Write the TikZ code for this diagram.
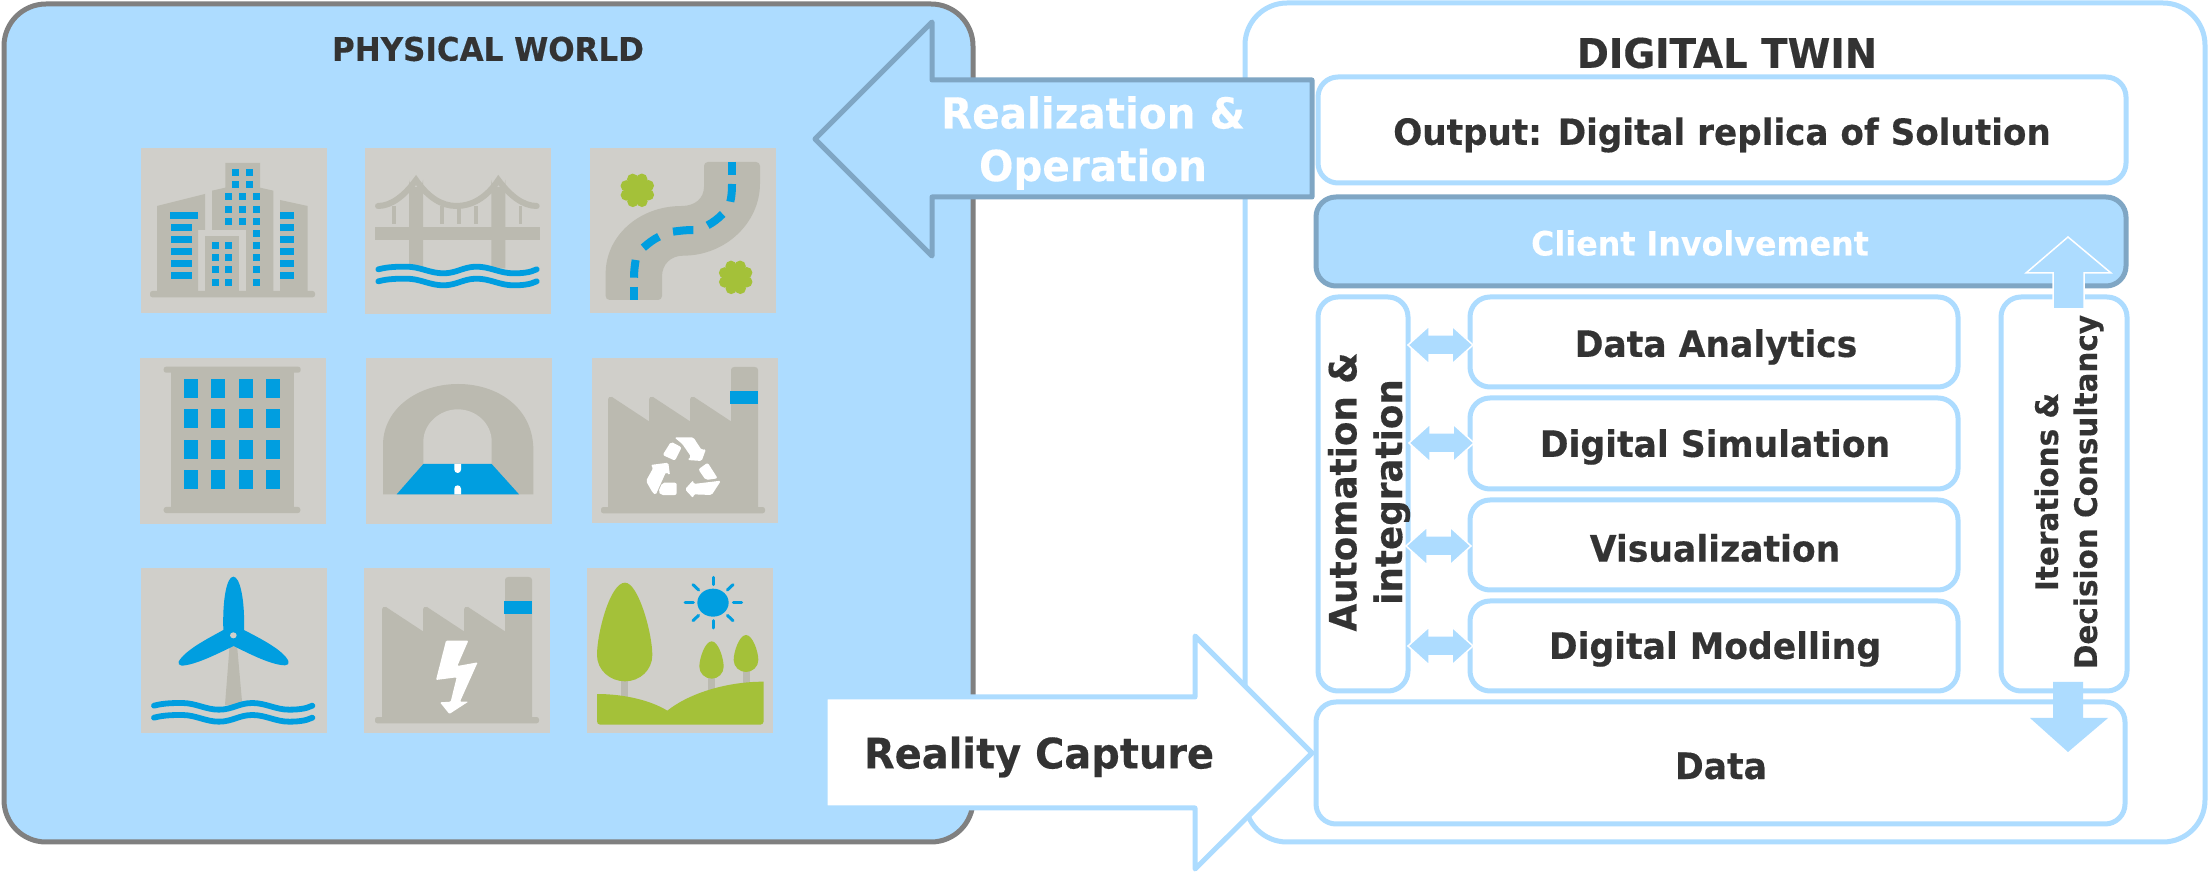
\documentclass[tikz,border=0pt]{standalone}
\usepackage{fontspec}
\setmainfont{DejaVu Sans}[FakeStretch=0.95,BoldFeatures={FakeBold=0.35}]
\definecolor{lb}{HTML}{ADDCFF}
\definecolor{gb}{HTML}{7FA6C4}
\definecolor{tile}{HTML}{D0CFCA}
\definecolor{gy}{HTML}{BBBAB0}
\definecolor{bl}{HTML}{009EE0}
\definecolor{gn}{HTML}{A4C139}
\definecolor{ink}{HTML}{333333}
\newcommand\fs[1]{\fontsize{#1}{#1}\selectfont\bfseries}
\newcommand\wavepath[2]{
  \draw[wv,shift={(#1,#2)}] (0,0) .. controls (30,-8) and (60,-8) .. (85,-8) .. controls (125,-8) and (155,12) .. (195,12) .. controls (235,12) and (255,-8) .. (295,-8) .. controls (335,-8) and (365,12) .. (405,12) .. controls (430,12) and (455,10) .. (475,0);
  \draw[wv,shift={(#1,#2+36)}] (0,0) .. controls (30,-8) and (60,-8) .. (85,-8) .. controls (125,-8) and (155,12) .. (195,12) .. controls (235,12) and (255,-8) .. (295,-8) .. controls (335,-8) and (365,12) .. (405,12) .. controls (430,12) and (455,10) .. (475,0);
}
\newcommand\factoryicon{
  \fill[gy,rounded corners=1.2pt] (45,490) -- (45,471) -- (537,471) -- (537,490) -- cycle;
  \fill[gy] (66,475) -- (66,148) .. controls (66,142) and (72,138) .. (78,141) -- (189,214) -- (189,148) .. controls (189,142) and (195,138) .. (201,141) -- (312,214) -- (312,148) .. controls (312,142) and (318,138) .. (324,141) -- (435,214) -- (435,60) .. controls (435,54) and (440,51) .. (445,51) -- (506,51) .. controls (512,51) and (516,54) .. (516,60) -- (516,475) -- cycle;
  \fill[bl] (432,123) rectangle (516,162);
}
\newcommand\bush[2]{
  \fill[gn] (#1,#2) circle[radius=40];
  \foreach \a in {0,45,...,315} { \fill[gn] (#1,#2) ++(\a+22:36) circle[radius=17]; }
}
\tikzset{
  zm/.style={x=0.16667pt,y=-0.16667pt},
  wv/.style={draw=bl,line width=2.9pt,line cap=round},
  tilebox/.style={fill=tile},
  frameA/.style={draw=gray,fill=lb,line width=2.5pt,rounded corners=21pt},
  frameB/.style={draw=lb,fill=white,line width=2.5pt,rounded corners=21pt},
  wbox/.style={draw=lb,fill=white,line width=2.5pt,rounded corners=10pt},
  cbox/.style={draw=gb,fill=lb,line width=2.5pt,rounded corners=10pt},
  bigarrow/.style={line width=2.5pt,line join=round},
  smallarrow/.style={fill=lb,draw=white,line width=0.75pt,line join=miter},
  lab/.style={text=ink,inner sep=0pt,align=center,font=\fs{18.2}},
  wlab/.style={text=white,inner sep=0pt,align=center},
  ray/.style={draw=bl,line width=1.5pt,line cap=round},
  rdash/.style={draw=bl,line width=4pt},
}
\begin{document}
\begin{tikzpicture}[x=0.5pt,y=-0.5pt]
\useasboundingbox (0,0) rectangle (2208,876);
\fill[white] (0,0) rectangle (2208,876);
% frames
\draw[frameA] (4,4) rectangle (973,842);
\draw[frameB] (1245,3) rectangle (2205,842);
% tiles
\fill[tilebox] (141,148) rectangle (327,313);
\fill[tilebox] (365,148) rectangle (551,314);
\fill[tilebox] (590,148) rectangle (776,313);
\fill[tilebox] (140,358) rectangle (326,524);
\fill[tilebox] (366,358) rectangle (552,524);
\fill[tilebox] (592,358) rectangle (778,523);
\fill[tilebox] (141,568) rectangle (327,733);
\fill[tilebox] (364,568) rectangle (550,733);
\fill[tilebox] (587,568) rectangle (773,733);
% T1 city
\begin{scope}[shift={(135,140)},zm]
  \fill[gy,rounded corners=1.2pt] (45,472) -- (45,453) -- (540,453) -- (540,472) -- cycle;
  \fill[gy] (66,198) -- (210,162) -- (210,270) -- (189,270) -- (189,455) -- (66,455) -- cycle;
  \fill[gy] (271,69) -- (375,69) -- (375,143) -- (415,152) -- (415,455) -- (333,455) -- (333,270) -- (231,270) -- (231,152) -- (271,143) -- cycle;
  \fill[gy] (210,289) rectangle (312,455);
  \fill[gy] (435,180) -- (518,198) -- (518,455) -- (435,455) -- cycle;
  \fill[bl] (105,216) rectangle (189,237);
  \foreach \y in {252,288,324,360,396} { \fill[bl] (108,\y) rectangle (171,\y+21); }
  \foreach \y in {216,252,288,324,360,396} { \fill[bl] (435,\y) rectangle (477,\y+21); }
  \foreach \x in {291,333} \foreach \y in {87,123} { \fill[bl] (\x,\y) rectangle (\x+21,\y+21); }
  \foreach \x in {270,312,354} \foreach \y in {159,198,234} { \fill[bl] (\x,\y) rectangle (\x+21,\y+21); }
  \foreach \y in {270,306,342,378,417} { \fill[bl] (354,\y) rectangle (375,\y+21); }
  \foreach \x in {231,270} \foreach \y in {306,342,378,417} { \fill[bl] (\x,\y) rectangle (\x+21,\y+21); }
\end{scope}
% T2 bridge
\begin{scope}[shift={(90,95)},zm]
  \fill[gy] (957,255) arc[start angle=180,end angle=0,radius=21] -- (999,520) -- (957,520) -- cycle;
  \fill[gy] (1204,255) arc[start angle=180,end angle=0,radius=21] -- (1246,520) -- (1204,520) -- cycle;
  \fill[gy] (855,397) rectangle (1349,435);
  \draw[gy,line width=3pt,line cap=round] (864,333) .. controls (905,333) and (945,300) .. (978,255) .. controls (1015,308) and (1055,333) .. (1100,333) .. controls (1145,333) and (1190,308) .. (1225,255) .. controls (1258,300) and (1298,333) .. (1340,333);
  \foreach \x in {906,1050,1101,1152,1286} { \fill[gy] (\x,333) rectangle (\x+11,388); }
  \wavepath{865}{523}
\end{scope}
% T3 road
\begin{scope}[shift={(585,140)},zm]
  \fill[gy] (369,66) -- (513,66) .. controls (520,66) and (525,71) .. (525,78) -- (525,130) .. controls (525,250) and (420,347) .. (295,347) .. controls (258,347) and (231,372) .. (231,410) -- (231,468) .. controls (231,475) and (226,480) .. (219,480) -- (74,480) .. controls (67,480) and (62,475) .. (62,468) -- (62,400) .. controls (62,290) and (160,198) .. (290,198) .. controls (330,198) and (357,175) .. (357,140) -- (357,78) .. controls (357,71) and (362,66) .. (369,66) -- cycle;
  \draw[rdash] (441,66) -- (441,105);
  \draw[rdash] (441,132) .. controls (441,150) and (440,168) .. (436,185);
  \draw[rdash] (413,222) .. controls (400,235) and (385,247) .. (368,256);
  \draw[rdash] (325,270) .. controls (305,270) and (285,272) .. (264,275);
  \draw[rdash] (222,290) .. controls (205,298) and (190,310) .. (175,323);
  \draw[rdash] (152,360) .. controls (149,378) and (147,395) .. (147,413);
  \draw[rdash] (147,441) -- (147,480);
  \bush{157}{151}
  \bush{452}{412}
\end{scope}
% T4 block
\begin{scope}[shift={(90,395)},zm]
  \fill[gy,rounded corners=1.2pt] (221,-85) -- (632,-85) -- (632,-67) -- (221,-67) -- cycle;
  \fill[gy] (242,-70) rectangle (611,340);
  \fill[gy,rounded corners=1.2pt] (221,354) -- (221,336) -- (631,336) -- (631,354) -- cycle;
  \foreach \x in {282,363,447,528} \foreach \y in {-48,42,135,225} { \fill[bl] (\x,\y) rectangle (\x+42,\y+57); }
\end{scope}
% T5 tunnel
\begin{scope}[shift={(90,395)},zm]
  \fill[gy] (879,298) -- (879,150) .. controls (879,40) and (985,-33) .. (1104,-33) .. controls (1225,-33) and (1330,40) .. (1330,165) -- (1330,298) -- cycle;
  \fill[tile] (1000,207) -- (1000,140) .. controls (1000,85) and (1050,43) .. (1103,43) .. controls (1158,43) and (1205,85) .. (1205,140) -- (1205,207) -- cycle;
  \fill[bl] (1000,207) -- (1205,207) -- (1287,298) -- (920,298) -- cycle;
  \fill[white] (1093,207) -- (1113,207) -- (1113,224) arc[start angle=0,end angle=180,radius=10] -- cycle;
  \fill[white] (1093,298) -- (1113,298) -- (1113,281) arc[start angle=0,end angle=-180,radius=10] -- cycle;
\end{scope}
% T6 recycling factory
\begin{scope}[shift={(586,350)},zm]
  \factoryicon
\end{scope}
\begin{scope}[shift={(585,350)},zm]
  \fill[white,rounded corners=0.8pt] (268,262) -- (325,262) -- (350,300) -- (363,297) -- (350,333) -- (307,330) -- (318,320) -- (292,282) -- cycle;
  \fill[white,rounded corners=1pt] (233,315) -- (258,275) -- (290,292) -- (270,332) -- cycle;
  \fill[white,rounded corners=0.8pt] (183,393) -- (205,353) -- (196,345) -- (250,338) -- (255,376) -- (243,366) -- (212,435) -- (203,428) -- cycle;
  \fill[white,rounded corners=1pt] (232,398) -- (275,398) -- (275,435) -- (228,435) -- (220,425) -- cycle;
  \fill[white,rounded corners=1pt] (340,358) -- (368,338) -- (398,385) -- (362,390) -- cycle;
  \fill[white,rounded corners=0.8pt] (300,418) -- (325,390) -- (325,402) -- (408,392) -- (380,435) -- (325,433) -- (325,445) -- cycle;
\end{scope}
% T7 wind
\begin{scope}[shift={(135,560)},zm]
  \fill[gy] (284,255) -- (306,255) -- (322,435) -- (270,435) -- cycle;
  \fill[bl] (265,210) .. controls (262,120) and (275,50) .. (295,50) .. controls (315,50) and (330,120) .. (327,210) .. controls (375,235) and (445,270) .. (460,303) .. controls (462,312) and (458,316) .. (450,316) .. controls (410,315) and (350,285) .. (296,258) .. controls (240,285) and (180,315) .. (140,317) .. controls (132,317) and (129,310) .. (131,305) .. controls (150,270) and (220,235) .. (265,210) -- cycle;
  \fill[tile] (295,226) ellipse[x radius=10,y radius=9];
  \wavepath{57}{437}
\end{scope}
% T8 power
\begin{scope}[shift={(360,560)},zm]
  \factoryicon
  \fill[white,rounded corners=0.5pt] (258,242) -- (325,242) -- (292,318) -- (353,307) -- (300,425) -- (325,425) -- (268,462) -- (240,427) -- (272,425) -- (290,352) -- (228,360) -- cycle;
\end{scope}
% T9 nature
\begin{scope}[shift={(580,560)},zm]
  \fill[gy] (123,360) rectangle (145,410);
  \fill[gy] (384,350) rectangle (405,395);
  \fill[gy] (488,330) rectangle (510,372);
  \fill[gn] (135,68) .. controls (90,68) and (51,220) .. (51,285) .. controls (51,330) and (90,364) .. (135,364) .. controls (180,364) and (217,330) .. (217,285) .. controls (217,220) and (175,68) .. (135,68) -- cycle;
  \fill[gn] (395,244) .. controls (375,244) and (358,295) .. (358,320) .. controls (358,340) and (375,356) .. (395,356) .. controls (415,356) and (431,340) .. (431,320) .. controls (431,295) and (415,244) .. (395,244) -- cycle;
  \fill[gn] (498,225) .. controls (478,225) and (461,275) .. (461,300) .. controls (461,320) and (478,336) .. (498,336) .. controls (518,336) and (535,320) .. (535,300) .. controls (535,275) and (518,225) .. (498,225) -- cycle;
  \fill[gn] (51,402) .. controls (130,402) and (210,420) .. (262,452) .. controls (320,405) and (430,365) .. (551,365) -- (551,484) .. controls (551,490) and (546,494) .. (541,494) -- (61,494) .. controls (55,494) and (51,490) .. (51,484) -- cycle;
  \fill[bl] (399,128) ellipse[x radius=47,y radius=42];
  \draw[ray] (399,52) -- (399,74);
  \draw[ray] (399,182) -- (399,204);
  \draw[ray] (315,128) -- (340,128);
  \draw[ray] (460,128) -- (485,128);
  \draw[ray] (339,74) -- (356,90);
  \draw[ray] (459,74) -- (442,90);
  \draw[ray] (339,182) -- (356,166);
  \draw[ray] (459,182) -- (442,166);
\end{scope}
% big arrows
\draw[bigarrow,draw=gb,fill=lb] (815,139) -- (932,22) -- (932,80) -- (1312,80) -- (1312,197) -- (932,197) -- (932,256) -- cycle;
\draw[bigarrow,draw=lb,fill=white] (825,697) -- (1195,697) -- (1195,636) -- (1312,753) -- (1195,869) -- (1195,808) -- (825,808) -- cycle;
% boxes
\draw[wbox] (1318,77) rectangle (2126,183);
\draw[cbox] (1316,197) rectangle (2126,286);
\draw[wbox] (1318,297) rectangle (1408,691);
\draw[wbox] (1470,297) rectangle (1958,387);
\draw[wbox] (1470,398) rectangle (1958,489);
\draw[wbox] (1470,500) rectangle (1958,590);
\draw[wbox] (1470,601) rectangle (1958,691);
\draw[wbox] (2001,297) rectangle (2127,691);
\draw[wbox] (1316,702) rectangle (2125,824);
% double arrows
\foreach \xa/\ya in {1408/345,1409/443,1406/546,1408/646}{
  \draw[smallarrow] (\xa,\ya) -- ++(21,-19) -- ++(0,9) -- ++(23,0) -- ++(0,-9) -- ++(21,19) -- ++(-21,19) -- ++(0,-9) -- ++(-23,0) -- ++(0,9) -- cycle;
}
% up and down arrows
\draw[smallarrow] (2068,237) -- (2111,273) -- (2084,273) -- (2084,309) -- (2053,309) -- (2053,273) -- (2026,273) -- cycle;
\fill[lb] (2053,682) -- (2083,682) -- (2083,718) -- (2108,718) -- (2068,752) -- (2030,718) -- (2053,718) -- cycle;
% labels
\node[lab,font=\fs{16.3}] (pw) at (488,49) {PHYSICAL WORLD};
\node[lab,font=\fs{20.4}] (dt) at (1727,53) {DIGITAL TWIN};
\node[lab,font=\fs{18}] (out) at (1722,135) {Output: Digital replica of Solution};
\node[wlab,font=\fs{16.7}] (ci) at (1700,243) {Client Involvement};
\node[wlab,font=\fs{21.3}] (ro) at (1093,143) {Realization \&\\[5pt] Operation};
\node[lab] (da) at (1716,347) {Data Analytics};
\node[lab] (ds) at (1715,447) {Digital Simulation};
\node[lab] (vi) at (1715,548) {Visualization};
\node[lab] (dm) at (1715,649) {Digital Modelling};
\node[lab] (dat) at (1721,766) {Data};
\node[lab,font=\fs{21}] (rc) at (1039,757) {Reality Capture};
\node[lab,font=\fs{18.8},rotate=90] (ai) at (1369,492) {Automation \&\\[4pt] integration};
\node[lab,font=\fs{15.5},rotate=90] (id) at (2069,492) {Iterations \&\\[4pt] Decision Consultancy};
\end{tikzpicture}
\end{document}
